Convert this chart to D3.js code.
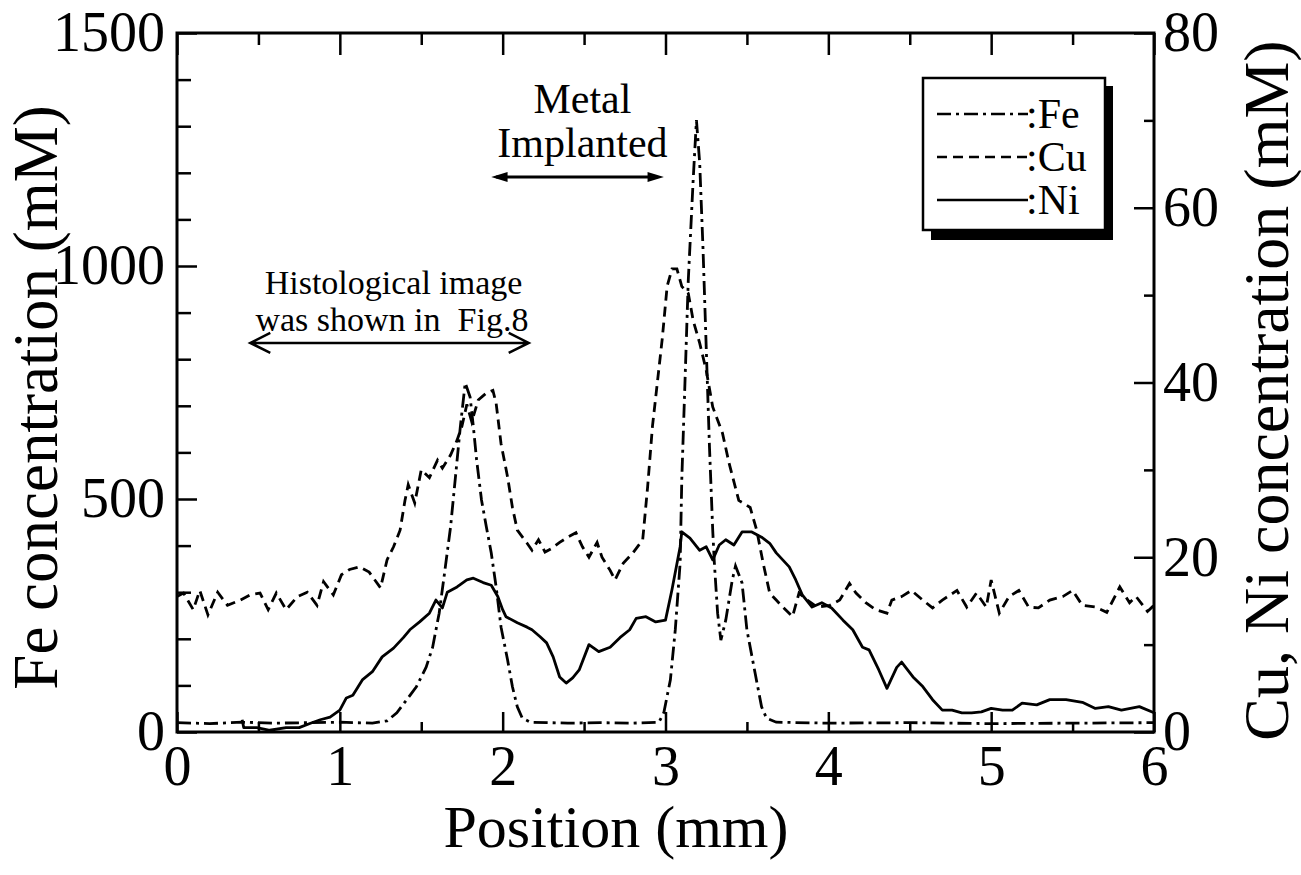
<!DOCTYPE html>
<html>
<head>
<meta charset="utf-8">
<script src="https://cdn.jsdelivr.net/npm/d3@7"></script>
<style>
  body { margin: 0; background: #fff; }
  svg { display: block; }
  text { font-family: "Liberation Serif", "Times New Roman", serif; fill: #000; }
</style>
</head>
<body>
<div id="chart"></div>
<script>
// Fe (left axis, mM)
const posFe = [0.00, 0.20, 0.40, 0.60, 0.80, 1.00, 1.20, 1.29, 1.35, 1.41, 1.47, 1.53, 1.57, 1.61, 1.64, 1.68, 1.71, 1.74, 1.77,
  1.80, 1.82, 1.84, 1.87, 1.90, 1.93, 1.96, 1.99, 2.03, 2.06, 2.09, 2.12, 2.17, 2.40, 2.60, 2.80, 2.96, 2.99, 3.03, 3.06, 3.09,
  3.10, 3.12, 3.14, 3.17, 3.19, 3.21, 3.23, 3.25, 3.27, 3.29, 3.30, 3.32, 3.34, 3.37, 3.41, 3.43, 3.47, 3.50, 3.55, 3.59, 3.62,
  3.68, 4.00, 4.50, 5.00, 5.50, 6.00];
const fe = [20, 18, 21, 19, 20, 21, 19, 24, 41, 69, 97, 139, 182, 255, 333, 440, 547, 655, 749,
  719, 655, 584, 498, 440, 384, 311, 225, 155, 97, 54, 30, 21, 19, 20, 19, 21, 42, 112, 219, 363,
  541, 755, 970, 1185, 1313, 1221, 1041, 826, 612, 433, 363, 255, 197, 240, 326, 356, 320, 219, 127, 54, 30,
  21, 19, 20, 18, 19, 20];

// Cu (right axis, mM)
const posCu = [0.00, 0.04, 0.10, 0.14, 0.19, 0.25, 0.31, 0.39, 0.45, 0.51, 0.56, 0.61, 0.67, 0.74, 0.80, 0.86, 0.90, 0.96,
  1.01, 1.06, 1.12, 1.18, 1.25, 1.29, 1.33, 1.37, 1.40, 1.42, 1.46, 1.50, 1.55, 1.60, 1.63, 1.68, 1.72, 1.75, 1.78, 1.81,
  1.85, 1.90, 1.94, 1.96, 1.99, 2.03, 2.06, 2.09, 2.15, 2.18, 2.22, 2.26, 2.30, 2.35, 2.40, 2.45, 2.49, 2.53, 2.58, 2.61,
  2.66, 2.69, 2.74, 2.80, 2.86, 2.89, 2.92, 2.95, 2.98, 3.01, 3.04, 3.07, 3.10, 3.14, 3.17, 3.21, 3.25, 3.29, 3.35, 3.39,
  3.45, 3.52, 3.56, 3.60, 3.64, 3.68, 3.72, 3.78, 3.82, 3.87, 3.93, 4.01, 4.07, 4.13, 4.17, 4.23, 4.29, 4.36, 4.39, 4.45,
  4.51, 4.58, 4.64, 4.70, 4.79, 4.85, 4.91, 4.97, 5.00, 5.05, 5.11, 5.17, 5.23, 5.29, 5.36, 5.44, 5.50, 5.56, 5.64, 5.71,
  5.79, 5.85, 5.89, 5.96, 6.00];
const cu = [15.5, 15.9, 14.0, 16.2, 13.4, 16.0, 14.5, 15.1, 15.7, 15.9, 14.0, 15.9, 14.0, 15.5, 16.0, 14.5, 17.2, 15.7,
  18.0, 18.6, 18.9, 18.3, 16.5, 19.7, 21.2, 23.1, 26.5, 28.3, 26.2, 30.0, 29.1, 31.1, 30.2, 31.7, 33.4, 35.0, 37.5, 35.5,
  38.0, 38.8, 39.1, 37.6, 33.0, 29.2, 25.7, 23.1, 21.6, 20.8, 22.0, 20.6, 21.0, 21.7, 22.3, 22.8, 21.2, 20.0, 21.7, 20.0,
  18.5, 17.4, 19.3, 20.5, 22.0, 28.0, 35.0, 40.0, 45.0, 51.0, 53.0, 53.0, 51.0, 50.2, 47.1, 44.5, 41.4, 37.2, 34.2, 30.8,
  26.5, 25.7, 23.1, 19.3, 15.9, 15.1, 14.3, 13.2, 15.9, 15.1, 14.3, 14.5, 15.1, 17.0, 15.9, 14.8, 14.0, 13.6, 15.1, 15.5,
  16.2, 15.1, 14.2, 15.1, 16.2, 14.3, 15.9, 14.3, 17.4, 13.6, 15.5, 16.2, 14.3, 14.2, 15.1, 15.5, 16.2, 14.5, 14.3, 13.7,
  16.6, 14.8, 15.5, 13.8, 14.5];

// Ni (right axis, mM)
const posNi = [0.40, 0.41, 0.49, 0.57, 0.67, 0.75, 0.82, 0.88, 0.94, 1.00, 1.04, 1.08, 1.14, 1.20, 1.26, 1.33, 1.39, 1.43,
  1.49, 1.55, 1.59, 1.63, 1.66, 1.72, 1.78, 1.82, 1.88, 1.93, 1.97, 2.00, 2.02, 2.09, 2.15, 2.18, 2.23, 2.27, 2.31, 2.35,
  2.39, 2.43, 2.47, 2.53, 2.59, 2.66, 2.72, 2.78, 2.82, 2.88, 2.94, 3.00, 3.04, 3.09, 3.10, 3.15, 3.21, 3.25, 3.29, 3.33,
  3.37, 3.42, 3.47, 3.53, 3.59, 3.64, 3.68, 3.72, 3.76, 3.80, 3.84, 3.90, 3.96, 4.02, 4.09, 4.15, 4.21, 4.25, 4.31, 4.36,
  4.42, 4.45, 4.52, 4.58, 4.64, 4.70, 4.76, 4.82, 4.88, 4.94, 5.00, 5.07, 5.13, 5.19, 5.28, 5.36, 5.46, 5.56, 5.64, 5.72,
  5.80, 5.91, 6.00];
const ni = [1.4, 0.5, 0.5, 0.2, 0.5, 0.5, 1.0, 1.4, 1.7, 2.5, 3.9, 4.2, 6.0, 6.9, 8.6, 9.6, 10.8, 11.7,
  12.6, 13.6, 15.1, 14.2, 16.0, 16.6, 17.4, 17.6, 17.1, 16.8, 15.5, 14.0, 13.2, 12.5, 12.0, 11.7, 10.9, 10.2, 8.6, 6.3,
  5.6, 6.2, 7.1, 10.0, 9.2, 9.7, 10.8, 11.7, 13.0, 13.2, 12.6, 12.8, 16.3, 21.2, 22.9, 22.2, 20.8, 21.2, 19.7, 21.4,
  22.0, 21.4, 22.9, 22.9, 22.3, 21.6, 20.5, 19.7, 18.9, 17.4, 15.7, 14.3, 14.8, 14.2, 12.8, 11.7, 9.7, 9.4, 7.1, 5.0,
  7.4, 8.0, 6.3, 5.2, 3.7, 2.5, 2.5, 2.2, 2.2, 2.3, 2.7, 2.5, 2.5, 3.3, 3.1, 3.7, 3.7, 3.4, 2.7, 2.9,
  2.5, 2.9, 2.2];

const xTicks = [0, 1, 2, 3, 4, 5, 6];
const feTicks = [0, 500, 1000, 1500];
const cuNiTicks = [0, 20, 40, 60, 80];
const legendNames = [":Fe", ":Cu", ":Ni"];

let margin = {top: 33, right: 147, bottom: 143, left: 177},
    width = 1301, height = 875,
    w = width - margin.left - margin.right,
    h = height - margin.top - margin.bottom;

let x = d3.scaleLinear().domain([0, 6]).range([0, w]);
let yFe = d3.scaleLinear().domain([0, 1500]).range([h, 0]);
let yCu = d3.scaleLinear().domain([0, 80]).range([h, 0]);

let svg = d3.select("#chart").append("svg")
    .attr("width", width).attr("height", height);
let g = svg.append("g").attr("transform", "translate(" + margin.left + "," + margin.top + ")");

function styleAxis(sel, size) {
  sel.select(".domain").remove();
  sel.selectAll("line").attr("stroke", "#000").attr("stroke-width", 2.5);
  sel.selectAll("text").style("font-family", '"Liberation Serif", "Times New Roman", serif')
    .style("font-size", size + "px").attr("fill", "#000");
}

// minor ticks
let minorX = d3.range(0.5, 6, 1);
g.append("g").attr("transform", "translate(0," + h + ")")
  .call(d3.axisBottom(x).tickValues(minorX).tickSize(-10).tickFormat(""))
  .call(s => styleAxis(s, 10));
g.append("g")
  .call(d3.axisTop(x).tickValues(minorX).tickSize(-12).tickFormat(""))
  .call(s => styleAxis(s, 10));
g.append("g")
  .call(d3.axisTop(x).tickValues(xTicks).tickSize(-22).tickFormat(""))
  .call(s => styleAxis(s, 10));
let minorFe = d3.range(100, 1500, 100).filter(v => v % 500 !== 0);
g.append("g")
  .call(d3.axisLeft(yFe).tickValues(minorFe).tickSize(-14).tickFormat(""))
  .call(s => styleAxis(s, 10));
let minorCu = [10, 30, 50, 70];
g.append("g").attr("transform", "translate(" + w + ",0)")
  .call(d3.axisRight(yCu).tickValues(minorCu).tickSize(-10).tickFormat(""))
  .call(s => styleAxis(s, 10));

// major ticks with labels
g.append("g").attr("transform", "translate(0," + h + ")")
  .call(d3.axisBottom(x).tickValues(xTicks).tickSize(-20).tickPadding(13).tickFormat(d3.format("d")))
  .call(s => styleAxis(s, 56));
g.append("g")
  .call(d3.axisLeft(yFe).tickValues(feTicks).tickSize(-20).tickPadding(12).tickFormat(d3.format("d")))
  .call(s => styleAxis(s, 56));
g.append("g").attr("transform", "translate(" + w + ",0)")
  .call(d3.axisRight(yCu).tickValues(cuNiTicks).tickSize(-20).tickPadding(9).tickFormat(d3.format("d")))
  .call(s => styleAxis(s, 56));

// frame
g.append("rect").attr("width", w).attr("height", h)
  .attr("fill", "none").attr("stroke", "#000").attr("stroke-width", 3);

// lines
let lineFe = d3.line().x(d => x(d[0])).y(d => yFe(d[1]));
let lineCu = d3.line().x(d => x(d[0])).y(d => yCu(d[1]));
g.append("path").datum(posFe.map((p, i) => [p, fe[i]]))
  .attr("d", lineFe).attr("fill", "none").attr("stroke", "#000")
  .attr("stroke-width", 2.8).attr("stroke-dasharray", "14,5,3,5");
g.append("path").datum(posCu.map((p, i) => [p, cu[i]]))
  .attr("d", lineCu).attr("fill", "none").attr("stroke", "#000")
  .attr("stroke-width", 2.8).attr("stroke-dasharray", "10,6");
g.append("path").datum(posNi.map((p, i) => [p, ni[i]]))
  .attr("d", lineCu).attr("fill", "none").attr("stroke", "#000")
  .attr("stroke-width", 2.8).attr("stroke-linejoin", "round");

// axis titles
svg.append("text").attr("x", 616).attr("y", 847)
  .attr("text-anchor", "middle").style("font-size", "60px").text("Position (mm)");
svg.append("text").attr("transform", "translate(57," + (margin.top + h / 2 + 15) + ") rotate(-90)")
  .attr("text-anchor", "middle").style("font-size", "63px").text("Fe concentration (mM)");
svg.append("text").attr("transform", "translate(1288," + (margin.top + h / 2 + 8) + ") rotate(-90)")
  .attr("text-anchor", "middle").style("font-size", "64px").text("Cu, Ni concentration (mM)");

// annotations
let ann = g.append("g");
ann.append("text").attr("x", x(2.49)).attr("y", yFe(1328)).attr("text-anchor", "middle")
  .style("font-size", "42px").text("Metal");
ann.append("text").attr("x", x(2.49)).attr("y", yFe(1234)).attr("text-anchor", "middle")
  .style("font-size", "42px").text("Implanted");
let ya = yFe(1191);
ann.append("line").attr("x1", x(1.96)).attr("x2", x(2.92)).attr("y1", ya).attr("y2", ya)
  .attr("stroke", "#000").attr("stroke-width", 3);
ann.append("path").attr("d", d3.line()([[x(1.93), ya], [x(2.03), ya - 5], [x(2.03), ya + 5]]) + "Z");
ann.append("path").attr("d", d3.line()([[x(2.99), ya], [x(2.89), ya - 5], [x(2.89), ya + 5]]) + "Z");

ann.append("text").attr("x", x(1.33)).attr("y", yFe(940)).attr("text-anchor", "middle")
  .style("font-size", "34px").text("Histological image");
ann.append("text").attr("x", x(1.32)).attr("y", yFe(860)).attr("text-anchor", "middle")
  .style("font-size", "34px").style("white-space", "pre").text("was shown in  Fig.8");
let yh = yFe(835), hx1 = x(0.45), hx2 = x(2.16);
ann.append("path").attr("fill", "none").attr("stroke", "#000").attr("stroke-width", 2.5)
  .attr("d", "M" + hx1 + "," + yh + "H" + hx2 +
    "M" + (hx1 + 20) + "," + (yh - 10) + "L" + hx1 + "," + yh + "L" + (hx1 + 20) + "," + (yh + 10) +
    "M" + (hx2 - 20) + "," + (yh - 10) + "L" + hx2 + "," + yh + "L" + (hx2 - 20) + "," + (yh + 10));

// legend
let lg = svg.append("g").attr("transform", "translate(923,78)");
lg.append("rect").attr("x", 8).attr("y", 8).attr("width", 182).attr("height", 154).attr("fill", "#000");
lg.append("rect").attr("width", 182).attr("height", 152).attr("fill", "#fff")
  .attr("stroke", "#000").attr("stroke-width", 2.5);
let dashes = ["14,5,3,5", "10,6", null];
legendNames.forEach((name, i) => {
  let yy = 36 + i * 43;
  lg.append("line").attr("x1", 14).attr("x2", 105).attr("y1", yy).attr("y2", yy)
    .attr("stroke", "#000").attr("stroke-width", 2.5).attr("stroke-dasharray", dashes[i]);
  lg.append("text").attr("x", 103).attr("y", yy + 14).style("font-size", "42px").text(name);
});
</script>
</body>
</html>
